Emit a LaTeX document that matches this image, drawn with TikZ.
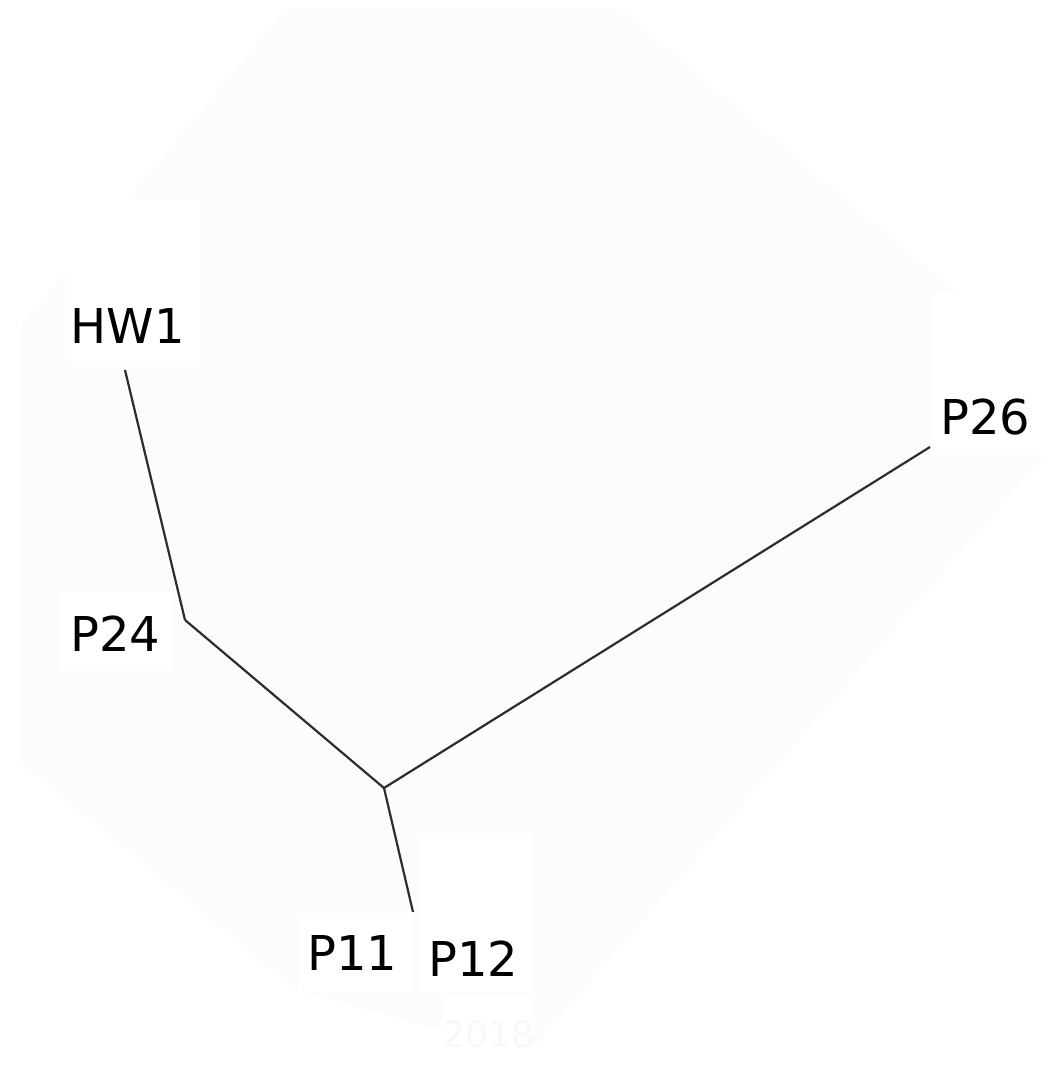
\documentclass[tikz,border=0pt]{standalone}
\usepackage{fontspec}
\setmainfont{DejaVu Sans}
\definecolor{hull}{RGB}{252,252,252}
\definecolor{faint}{RGB}{248,248,248}
\definecolor{edgecol}{RGB}{45,45,45}
\begin{document}
\begin{tikzpicture}[x=1pt,y=-1pt,
  lbl/.style={anchor=base west,inner sep=0pt,font=\fontsize{48}{56}\selectfont,text=black},
  branch/.style={draw=edgecol,line width=2.2pt},
  whitebox/.style={fill=white}]
\useasboundingbox (0,0) rectangle (1053,1070);
\fill[white] (0,0) rectangle (1053,1070);
% faint hull
\fill[hull] (285,10) -- (621,10) -- (956,293) -- (1044,455) -- (527,1054) -- (297,990) -- (22,763) -- (22,323) -- (65,275) -- (128,200) -- cycle;
% white label backgrounds
\fill[whitebox] (65,200) rectangle (200,362);
\fill[whitebox] (60,592) rectangle (173,670);
\fill[whitebox] (932,293) rectangle (1046,455);
\fill[whitebox] (298,913) rectangle (412,992);
\fill[whitebox] (418,833) rectangle (531,992);
\fill[whitebox] (442,995) rectangle (531,1066);
% tree points
\coordinate (tHW1) at (125,370);
\coordinate (n24) at (185,620);
\coordinate (root) at (384,788);
\coordinate (tP26) at (930,447);
\coordinate (tP11) at (413,912);
% branches
\draw[branch] (tHW1) -- (n24);
\draw[branch] (n24) -- (root);
\draw[branch] (root) -- (tP26);
\draw[branch] (root) -- (tP11);
% labels
\node[lbl] (HW1) at (70.3,343) {HW1};
\node[lbl] (P24) at (70.3,651) {P24};
\node[lbl] (P26) at (940.3,434) {P26};
\node[lbl] (P11) at (307.3,970) {P11};
\node[lbl] (P12) at (428.3,976) {P12};
\node[lbl,text=faint,font=\fontsize{36}{42}\selectfont] (yr) at (442.5,1047) {2018};
\end{tikzpicture}
\end{document}
